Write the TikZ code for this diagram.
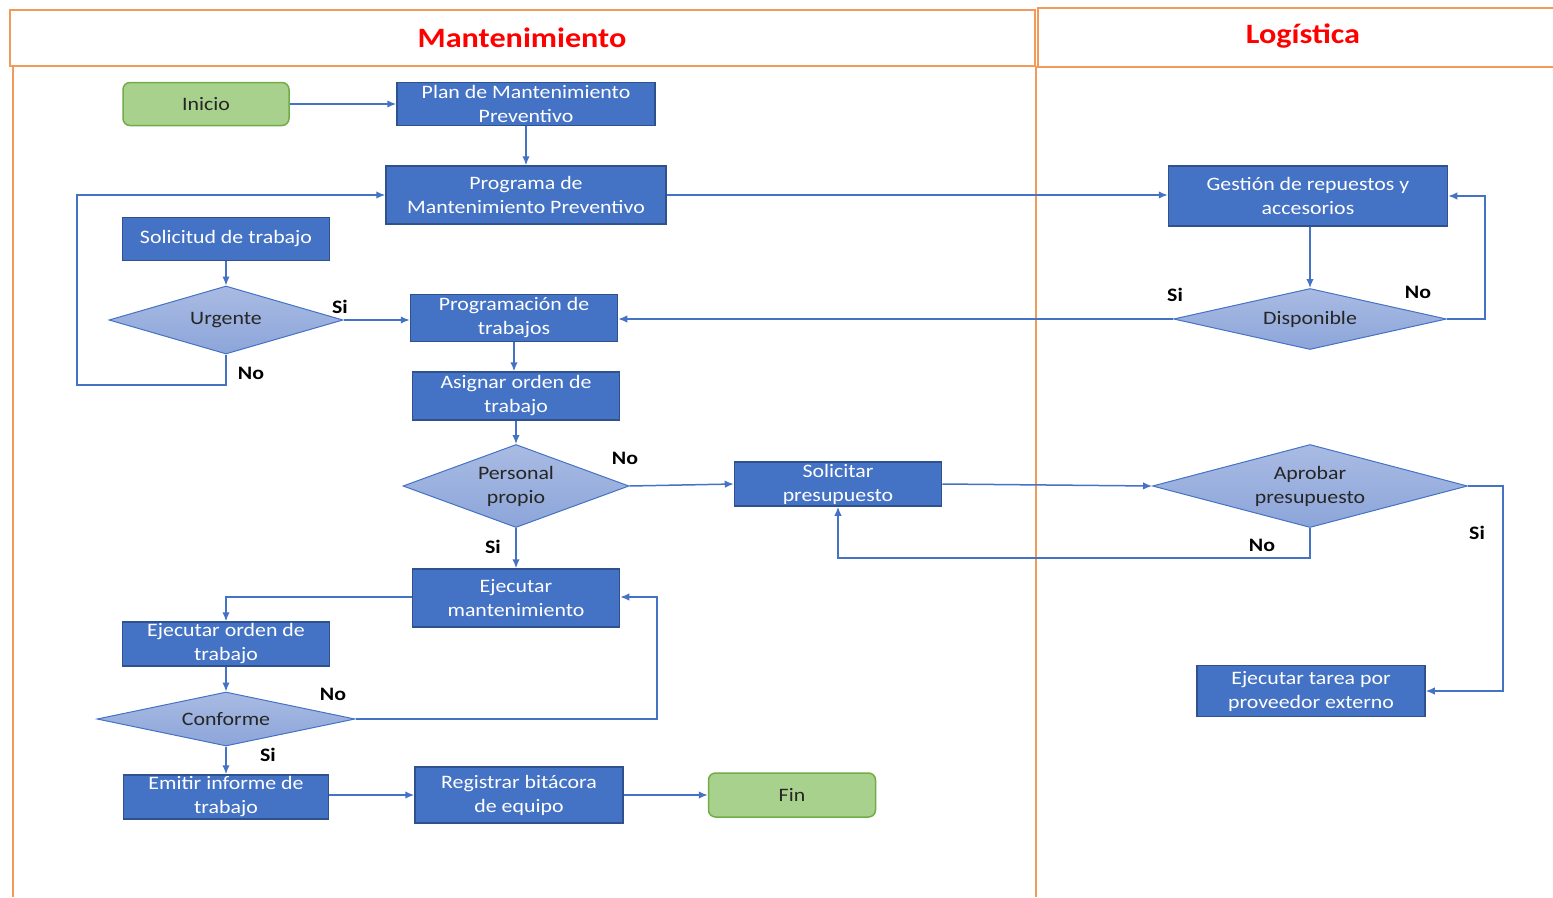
\documentclass[tikz,border=0pt]{standalone}
\usepackage{fontspec}
\setmainfont{Carlito}[FakeStretch=1.15]
\usetikzlibrary{shapes.geometric,arrows.meta}
\definecolor{boxblue}{HTML}{4472C4}
\definecolor{boxline}{HTML}{2F528F}
\definecolor{dectop}{HTML}{A9BBE3}
\definecolor{decbot}{HTML}{8CA5D9}
\definecolor{termfill}{HTML}{A9D18E}
\definecolor{termline}{HTML}{70AD47}
\definecolor{laneorange}{HTML}{F19A5A}
\definecolor{textdark}{HTML}{262626}
\tikzset{
  box/.style={draw=boxline, line width=1.5pt, fill=boxblue, text=white, align=center, inner sep=0pt, font=\fontsize{19}{24}\selectfont},
  dec/.style={diamond, draw=boxblue, line width=1pt, top color=dectop, bottom color=decbot, text=textdark, align=center, inner sep=0pt, font=\fontsize{19}{24}\selectfont},
  term/.style={draw=termline, line width=1.5pt, fill=termfill, rounded corners=7pt, text=textdark, align=center, inner sep=0pt, font=\fontsize{19}{24}\selectfont},
  lbl/.style={text=black, font=\fontsize{19}{24}\selectfont\bfseries, inner sep=0pt},
  conn/.style={draw=boxblue, line width=1.5pt, -{Latex[length=9pt,width=7.5pt]}},
  lane/.style={draw=laneorange, line width=2pt},
  title/.style={text=red, font=\fontsize{28}{32}\selectfont\bfseries, inner sep=0pt}
}
\begin{document}
\begin{tikzpicture}[x=1pt,y=-1pt]
\useasboundingbox (0,0) rectangle (1553,897);
% lanes
\draw[lane] (10,10) rectangle (1035,66);
\draw[lane] (13,66) -- (13,897);
\draw[lane] (1036,66) -- (1036,897);
\draw[lane] (1553,8) -- (1038,8) -- (1038,67) -- (1553,67);
\node[title] (tmant) at (522,38) {Mantenimiento};
\node[title] (tlog) at (1303,36) {Logística};
% nodes
\node[term, minimum width=166pt, minimum height=43pt] (inicio) at (206,104) {Inicio};
\node[box, minimum width=258pt, minimum height=43pt] (plan) at (526,104) {Plan de Mantenimiento\\Preventivo};
\node[box, minimum width=280pt, minimum height=58pt] (prog) at (526,195) {Programa de\\Mantenimiento Preventivo};
\node[box, minimum width=207pt, minimum height=43pt] (sol) at (226,239) {Solicitud de trabajo};
\node[dec, minimum width=234pt, minimum height=68pt, aspect=3.44] (urg) at (226,320) {Urgente};
\node[box, minimum width=207pt, minimum height=47pt] (progt) at (514,318) {Programación de\\trabajos};
\node[box, minimum width=207pt, minimum height=48pt] (asig) at (516,396) {Asignar orden de\\trabajo};
\node[dec, minimum width=226pt, minimum height=83pt, aspect=2.72] (pers) at (516,486) {Personal\\propio};
\node[box, minimum width=207pt, minimum height=44pt] (solp) at (838,484) {Solicitar\\presupuesto};
\node[box, minimum width=279pt, minimum height=60pt] (gest) at (1308,196) {Gestión de repuestos y\\accesorios};
\node[dec, minimum width=273pt, minimum height=61pt, aspect=4.48] (disp) at (1310,319) {Disponible};
\node[dec, minimum width=315pt, minimum height=83pt, aspect=3.8] (aprob) at (1310,486) {Aprobar\\presupuesto};
\node[box, minimum width=207pt, minimum height=58pt] (ejm) at (516,598) {Ejecutar\\mantenimiento};
\node[box, minimum width=207pt, minimum height=44pt] (ejo) at (226,644) {Ejecutar orden de\\trabajo};
\node[dec, minimum width=258pt, minimum height=54pt, aspect=4.78] (conf) at (226,719) {Conforme};
\node[box, minimum width=205pt, minimum height=44pt] (emit) at (226,797) {Emitir informe de\\trabajo};
\node[box, minimum width=208pt, minimum height=56pt] (reg) at (519,795) {Registrar bitácora\\de equipo};
\node[term, minimum width=167pt, minimum height=44pt] (fin) at (792,795) {Fin};
\node[box, minimum width=228pt, minimum height=51pt] (ejt) at (1311,691) {Ejecutar tarea por\\proveedor externo};
% connectors
\draw[conn] (inicio) -- (plan);
\draw[conn] (plan) -- (prog);
\draw[conn] (prog.east) -- (prog.east -| gest.west);
\draw[conn] (gest.south -| disp.north) -- (disp.north);
\draw[conn] (disp.west) -- (progt.east |- disp.west);
\draw[conn] (disp.east) -- (1485,319) -- (1485,196) -- (gest.east);
\draw[conn] (sol) -- (urg);
\draw[conn] (urg.east) -- (progt.west |- urg.east);
\draw[conn] (urg.south) -- (226,385) -- (77,385) -- (77,195) -- (prog.west);
\draw[conn] (progt) -- (progt |- asig.north);
\draw[conn] (asig) -- (pers);
\draw[conn] (pers.east) -- (solp.west);
\draw[conn] (pers) -- (ejm);
\draw[conn] (solp.east) -- (aprob.west);
\draw[conn] (aprob.south) -- (1310,558) -- (838,558) -- (solp.south);
\draw[conn] (aprob.east) -- (1503,486) -- (1503,691) -- (ejt.east);
\draw[conn] (ejm.west |- 0,597) -- (226,597) -- (ejo.north);
\draw[conn] (ejo) -- (conf);
\draw[conn] (conf.east) -- (657,719) -- (657,597) -- (ejm.east |- 0,597);
\draw[conn] (conf) -- (emit);
\draw[conn] (emit.east |- 0,795) -- (reg.west);
\draw[conn] (reg) -- (fin);
% labels
\node[lbl] (l1) at (340,307) {Si};
\node[lbl] (l2) at (251,373) {No};
\node[lbl] (l3) at (1175,295) {Si};
\node[lbl] (l4) at (1418,292) {No};
\node[lbl] (l5) at (625,458) {No};
\node[lbl] (l6) at (493,547) {Si};
\node[lbl] (l7) at (1262,545) {No};
\node[lbl] (l8) at (1477,533) {Si};
\node[lbl] (l9) at (333,694) {No};
\node[lbl] (l10) at (268,755) {Si};
\end{tikzpicture}
\end{document}
